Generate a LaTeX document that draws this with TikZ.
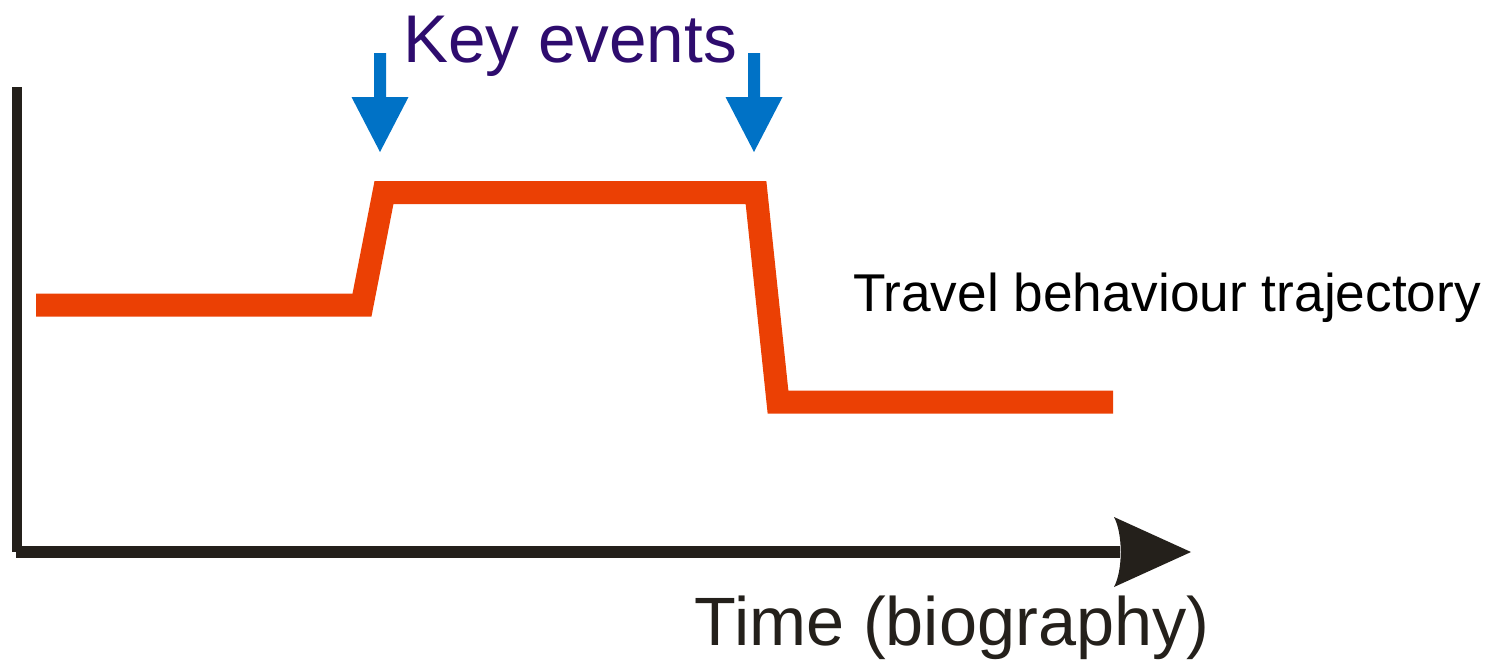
\documentclass[tikz,border=0pt]{standalone}
\usepackage{fontspec}
\setmainfont{Liberation Sans}
\definecolor{traj}{RGB}{235,64,4}
\definecolor{evblue}{RGB}{0,114,198}
\definecolor{evpurple}{RGB}{46,12,110}
\definecolor{axisblack}{RGB}{36,32,27}
\begin{document}
\begin{tikzpicture}[x=1pt,y=-1pt,
  axisline/.style={draw=axisblack,line cap=butt},
  trajline/.style={draw=traj,line width=23pt,line join=miter,line cap=butt},
  lbl/.style={inner sep=0pt,outer sep=0pt},
  keyarrow/.pic={\fill[evblue] (-6,-99) -- (6,-99) -- (6,-55) -- (28.5,-55) -- (0,0) -- (-28.5,-55) -- (-6,-55) -- cycle;}
]
\useasboundingbox (0,0) rectangle (1505,665);
% axes
\coordinate (ytop) at (17,87);
\coordinate (ybot) at (17,552);
\coordinate (xstart) at (16,552);
\coordinate (xend) at (1120,552);
\coordinate (xtip) at (1191,552);
\draw[axisline,line width=10pt] (ytop) -- (ybot);
\draw[axisline,line width=12pt] (xstart) -- (xend);
\fill[axisblack] (1114,517) -- (xtip) -- (1114,587) .. controls (1123,570) and (1123,534) .. cycle;
% trajectory
\coordinate (t0) at (36,305);
\coordinate (t1) at (362,305);
\coordinate (t2) at (384,192.5);
\coordinate (t3) at (756,192.5);
\coordinate (t4) at (778,402);
\coordinate (t5) at (1113,402);
\draw[trajline] (t0) -- (t1) -- (t2) -- (t3) -- (t4) -- (t5);
% key event arrows
\pic at (380,152) {keyarrow};
\pic at (754,152) {keyarrow};
% labels
\node[lbl,anchor=base,text=evpurple,font=\fontsize{67.5}{67.5}\selectfont] (keyev) at (570,62) {Key events};
\node[lbl,anchor=base west,text=black,font=\fontsize{53.2}{53.2}\selectfont] (travel) at (853,311) {Travel behaviour trajectory};
\node[lbl,anchor=base,text=axisblack,font=\fontsize{68.4}{68.4}\selectfont] (time) at (952,645) {Time (biography)};
\end{tikzpicture}
\end{document}
